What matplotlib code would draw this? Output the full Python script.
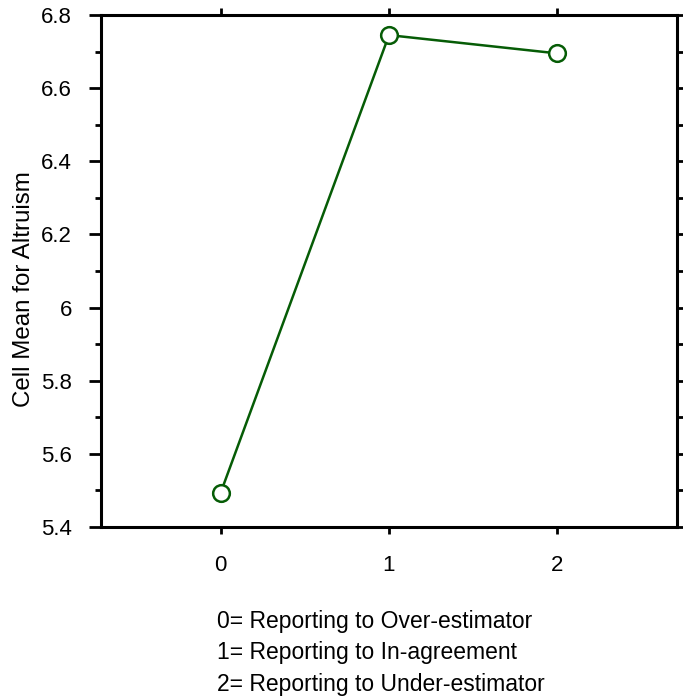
import matplotlib
matplotlib.use("Agg")
import matplotlib.pyplot as plt
from matplotlib.ticker import MultipleLocator

plt.rcParams['font.family'] = ['Liberation Sans', 'DejaVu Sans']

groups = [0, 1, 2]
cell_means = [5.493, 6.745, 6.695]
xtick_labels = ["0", "1", "2"]
ytick_values = [5.4, 5.6, 5.8, 6.0, 6.2, 6.4, 6.6, 6.8]
ytick_labels = ["5.4", "5.6", "5.8", "6", "6.2", "6.4", "6.6", "6.8"]
legend_lines = ["0= Reporting to Over-estimator",
                "1= Reporting to In-agreement",
                "2= Reporting to Under-estimator"]

fig = plt.figure(figsize=(6.83, 6.98), dpi=100)
ax = fig.add_axes([101/683, 1-527/698, (677-101)/683, (527-15)/698])

ax.plot(groups, cell_means, color='#065c06', lw=1.8, marker='o', ms=12,
        mfc='white', mec='#065c06', mew=1.8, zorder=3)

ax.set_xlim(-0.71, 2.71)
ax.set_ylim(5.4, 6.8)
ax.set_xticks(groups)
ax.set_xticklabels(xtick_labels)
ax.set_yticks(ytick_values)
ax.set_yticklabels(ytick_labels)
ax.yaxis.set_minor_locator(MultipleLocator(0.1))

for s in ax.spines.values():
    s.set_linewidth(2.2)

ax.tick_params(axis='y', which='major', direction='out', length=9, width=2,
               labelsize=16, pad=12, right=True)
ax.tick_params(axis='y', which='minor', direction='out', length=4.5, width=2,
               right=True)
ax.tick_params(axis='x', which='major', direction='out', length=5, width=2,
               labelsize=16, pad=15, top=True)

ax.set_ylabel("Cell Mean for Altruism", fontsize=17.4, labelpad=4)
ax.yaxis.label.set_y(0.464)

baselines = [628, 659.5, 691]
for t, yb in zip(legend_lines, baselines):
    fig.text(217/683, 1-yb/698, t, fontsize=16.5, ha='left', va='baseline')

fig.savefig("out.png", dpi=100)
